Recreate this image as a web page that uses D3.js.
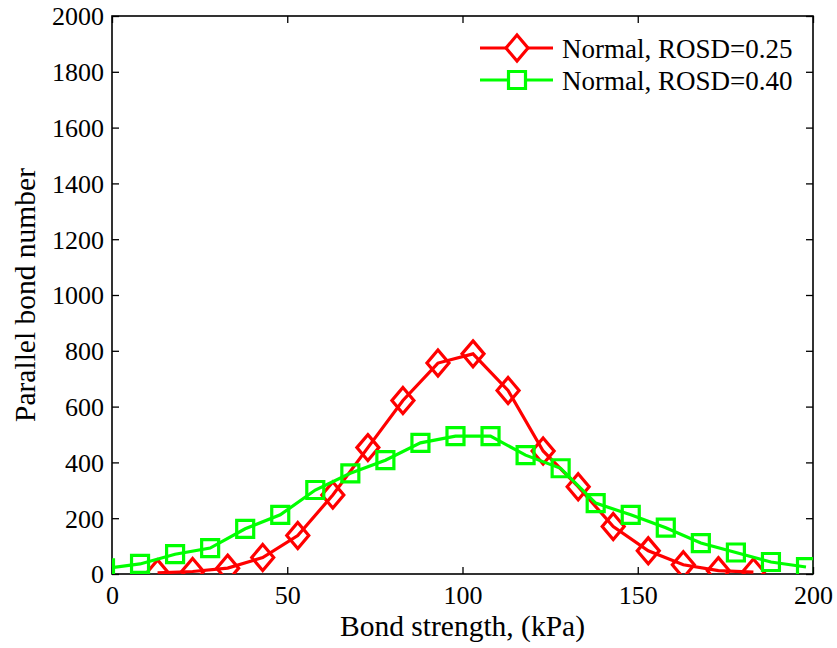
<!DOCTYPE html>
<html><head><meta charset="utf-8">
<script src="https://cdn.jsdelivr.net/npm/d3@7"></script>
<style>
html,body{margin:0;padding:0;background:#fff;}
svg text{font-family:"Liberation Serif","Times New Roman",serif;fill:#000;}
</style></head>
<body><svg id="chart" width="837" height="648"></svg>
<script>
// Data
const redX = [13,23,33,43,53,63,73,83,93,103,113,123,133,143,153,163,173,183];
const redY = [4,9,21,59,138,283,453,622,756,789,658,441,313,170,83,33,12,7];
const greenX = [-2,8,18,28,38,48,58,68,78,88,98,108,118,128,138,148,158,168,178,188,198];
const greenY = [20,36,71,93,162,212,301,361,408,470,494,494,426,379,254,212,166,111,77,43,25];
const xTicks = [0,50,100,150,200];
const yTicks = [0,200,400,600,800,1000,1200,1400,1600,1800,2000];
const seriesNames = ["Normal, ROSD=0.25","Normal, ROSD=0.40"];
const xTitle = "Bond strength, (kPa)";
const yTitle = "Parallel bond number";

const svg = d3.select("#chart");
const L=112, R=813, T=16, B=574;
const x = d3.scaleLinear().domain([0,200]).range([L,R]);
const y = d3.scaleLinear().domain([0,2000]).range([B,T]);
const tickLen=7, fs=26, lfs=27, tfs=29.5;

// clip
svg.append("clipPath").attr("id","clip").append("rect")
  .attr("x",L).attr("y",T).attr("width",R-L).attr("height",B-T);

// axes box
svg.append("rect").attr("x",L).attr("y",T).attr("width",R-L).attr("height",B-T)
  .attr("fill","none").attr("stroke","#000").attr("stroke-width",1.6);

// ticks
const xb = d3.axisBottom(x).tickValues(xTicks).tickSize(-tickLen).tickPadding(12).tickFormat(d3.format("d"));
const gxb = svg.append("g").attr("transform",`translate(0,${B})`).call(xb);
const gxt = svg.append("g").attr("transform",`translate(0,${T})`).call(d3.axisTop(x).tickValues(xTicks).tickSize(-tickLen).tickFormat(""));
const yl = d3.axisLeft(y).tickValues(yTicks).tickSize(-tickLen).tickPadding(8).tickFormat(d3.format("d"));
const gyl = svg.append("g").attr("transform",`translate(${L},0)`).call(yl);
const gyr = svg.append("g").attr("transform",`translate(${R},0)`).call(d3.axisRight(y).tickValues(yTicks).tickSize(-tickLen).tickFormat(""));
[gxb,gxt,gyl,gyr].forEach(g=>{
  g.select(".domain").remove();
  g.selectAll(".tick line").attr("stroke","#000").attr("stroke-width",1.3);
  g.selectAll(".tick text").attr("font-size",fs).attr("font-family","Liberation Serif").attr("fill","#000");
});
gyl.selectAll(".tick text").attr("dy","0.34em");
gxb.selectAll(".tick text").attr("dy","0.71em");

// titles
svg.append("text").attr("x",(L+R)/2).attr("y",636).attr("text-anchor","middle")
  .attr("font-size",tfs).text(xTitle);
svg.append("text").attr("transform",`translate(35,${(T+B)/2}) rotate(-90)`).attr("text-anchor","middle")
  .attr("font-size",tfs).text(yTitle);

// markers
const diamond = (cx,cy)=>`M${cx},${cy-13}L${cx+11},${cy}L${cx},${cy+13}L${cx-11},${cy}Z`;
const square = (cx,cy)=>`M${cx-8.5},${cy-8.5}H${cx+8.5}V${cy+8.5}H${cx-8.5}Z`;

const line = d3.line().x(d=>x(d[0])).y(d=>y(d[1]));
const plot = svg.append("g").attr("clip-path","url(#clip)");

const red = "#ff0000", green = "#00ff00", sw = 3.2;
const redData = redX.map((v,i)=>[v,redY[i]]);
const greenData = greenX.map((v,i)=>[v,greenY[i]]);

plot.append("path").datum(redData).attr("d",line).attr("fill","none").attr("stroke",red).attr("stroke-width",sw);
plot.selectAll(".rm").data(redData).enter().append("path").attr("class","rm")
  .attr("d",d=>diamond(x(d[0]),y(d[1]))).attr("fill","none").attr("stroke",red).attr("stroke-width",sw);
plot.append("path").datum(greenData).attr("d",line).attr("fill","none").attr("stroke",green).attr("stroke-width",sw);
plot.selectAll(".gm").data(greenData).enter().append("path").attr("class","gm")
  .attr("d",d=>square(x(d[0]),y(d[1]))).attr("fill","none").attr("stroke",green).attr("stroke-width",sw);

// legend
const leg = svg.append("g");
const legRows = [{c:red,m:diamond,ly:48,ty:58,name:seriesNames[0]},{c:green,m:square,ly:80,ty:90,name:seriesNames[1]}];
legRows.forEach(r=>{
  leg.append("line").attr("x1",480).attr("x2",553).attr("y1",r.ly).attr("y2",r.ly).attr("stroke",r.c).attr("stroke-width",sw);
  leg.append("path").attr("d",r.m(517,r.ly)).attr("fill","#fff").attr("stroke",r.c).attr("stroke-width",sw);
  leg.append("text").attr("x",562).attr("y",r.ty).attr("font-size",lfs).text(r.name);
});
</script></body></html>
